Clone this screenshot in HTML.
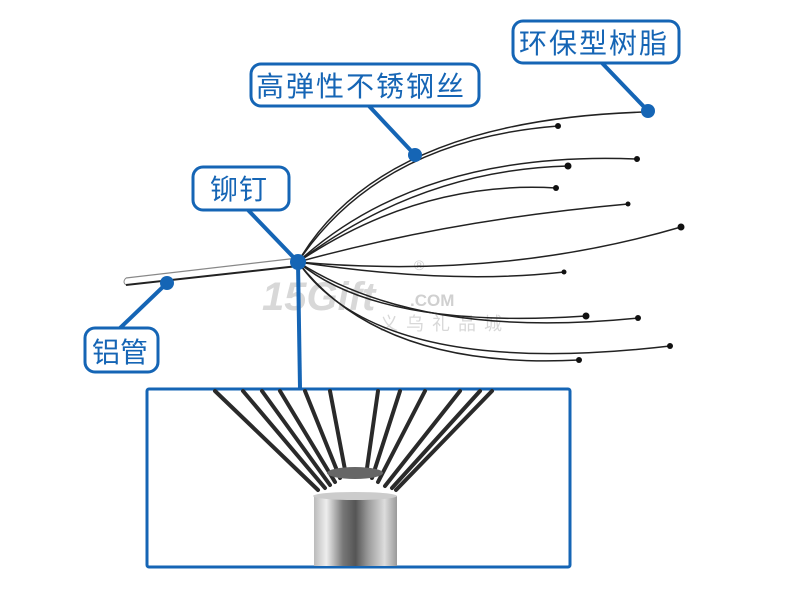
<!DOCTYPE html>
<html><head><meta charset="utf-8"><style>
html,body{margin:0;padding:0;background:#fff;}
svg{display:block;}
text{font-family:"Liberation Sans","Noto Sans CJK SC",sans-serif;}
</style></head><body>
<svg width="800" height="600" viewBox="0 0 800 600" xmlns="http://www.w3.org/2000/svg">
<defs>
<linearGradient id="cyl" x1="0" x2="1" y1="0" y2="0">
<stop offset="0" stop-color="#bbb"/><stop offset="0.15" stop-color="#eee"/><stop offset="0.35" stop-color="#777"/><stop offset="0.5" stop-color="#555"/><stop offset="0.65" stop-color="#999"/><stop offset="0.85" stop-color="#ddd"/><stop offset="1" stop-color="#999"/>
</linearGradient>
</defs>
<!-- watermark -->
<text x="262" y="310" font-size="40" font-style="italic" font-weight="bold" fill="#d8d8d8">15Gift</text>
<text x="410" y="306" font-size="17" font-weight="bold" fill="#d0d0d0">.COM</text>
<text x="380" y="330" font-size="18" fill="#d8d8d8" letter-spacing="8">义乌礼品城</text>
<text x="414" y="270" font-size="14" fill="#ccc">®</text>
<!-- tube -->
<path d="M126 278 L298 258" stroke="#888" stroke-width="1.2" fill="none"/>
<path d="M126 285 L298 266" stroke="#222" stroke-width="2" fill="none"/>
<path d="M126 278 Q122 282 126 285" stroke="#888" fill="none"/>
<!-- wires -->
<g stroke="#222" stroke-width="1.5" fill="none">
<path d="M298 262 Q380 120 645 112"/>
<path d="M298 262 Q380 140 558 126"/>
<path d="M298 262 Q420 150 637 159"/>
<path d="M298 262 Q420 170 568 166"/>
<path d="M298 262 Q420 180 556 188"/>
<path d="M298 262 Q450 220 628 204"/>
<path d="M298 262 Q500 280 681 227"/>
<path d="M298 262 Q450 285 564 272"/>
<path d="M298 262 Q380 330 586 316"/>
<path d="M298 262 Q420 340 638 318"/>
<path d="M298 262 Q380 380 670 346"/>
<path d="M298 262 Q380 370 579 360"/>
</g>
<g fill="#111">
<circle cx="558" cy="126" r="3"/><circle cx="637" cy="159" r="3"/><circle cx="568" cy="166" r="3.5"/><circle cx="556" cy="188" r="3"/><circle cx="628" cy="204" r="2.5"/><circle cx="681" cy="227" r="3.5"/><circle cx="564" cy="272" r="2.5"/><circle cx="586" cy="316" r="3.5"/><circle cx="638" cy="318" r="3"/><circle cx="670" cy="346" r="3"/><circle cx="579" cy="360" r="3"/>
</g>
<!-- callout lines -->
<g stroke="#1565b5" stroke-width="4" fill="none">
<line x1="602" y1="63" x2="648" y2="111"/>
<line x1="369" y1="106" x2="415" y2="155"/>
<line x1="248" y1="210" x2="298" y2="262"/>
<line x1="298" y1="262" x2="300" y2="388"/>
<line x1="118" y1="330" x2="167" y2="283"/>
</g>
<g fill="#1565b5">
<circle cx="648" cy="111" r="7"/><circle cx="415" cy="155" r="7"/><circle cx="298" cy="262" r="8"/><circle cx="167" cy="283" r="7"/>
</g>
<!-- label boxes -->
<g fill="#fff" stroke="#1565b5" stroke-width="3">
<rect x="513" y="21" width="166" height="42" rx="10"/>
<rect x="251" y="64" width="228" height="42" rx="10"/>
<rect x="193" y="167" width="96" height="43" rx="10"/>
<rect x="85" y="328" width="73" height="44" rx="10"/>
</g>
<g fill="#1565b5" font-size="28">
<text x="519" y="53" letter-spacing="2">环保型树脂</text>
<text x="256" y="96" letter-spacing="2">高弹性不锈钢丝</text>
<text x="210" y="199" letter-spacing="1">铆钉</text>
<text x="92" y="362">铝管</text>
</g>
<!-- inset -->
<rect x="147" y="389" width="423" height="178" fill="#fff" stroke="#1565b5" stroke-width="3" rx="2"/>
<g stroke="#2a2a2a" stroke-width="4" fill="none" stroke-linecap="round">
<path d="M215 391 L318 490"/><path d="M243 391 L325 488"/><path d="M262 391 L330 485"/>
<path d="M280 391 L335 482"/><path d="M305 391 L340 478"/><path d="M330 391 L346 475"/>
<path d="M378 391 L366 475"/><path d="M400 391 L372 478"/><path d="M425 391 L378 482"/>
<path d="M460 391 L385 486"/><path d="M480 391 L392 488"/><path d="M492 391 L396 490"/>
</g>
<ellipse cx="355" cy="473" rx="28" ry="6" fill="#666"/>
<rect x="314" y="496" width="83" height="70" fill="url(#cyl)"/>
<ellipse cx="355" cy="496" rx="42" ry="4" fill="#ccc"/>
</svg>
</body></html>
